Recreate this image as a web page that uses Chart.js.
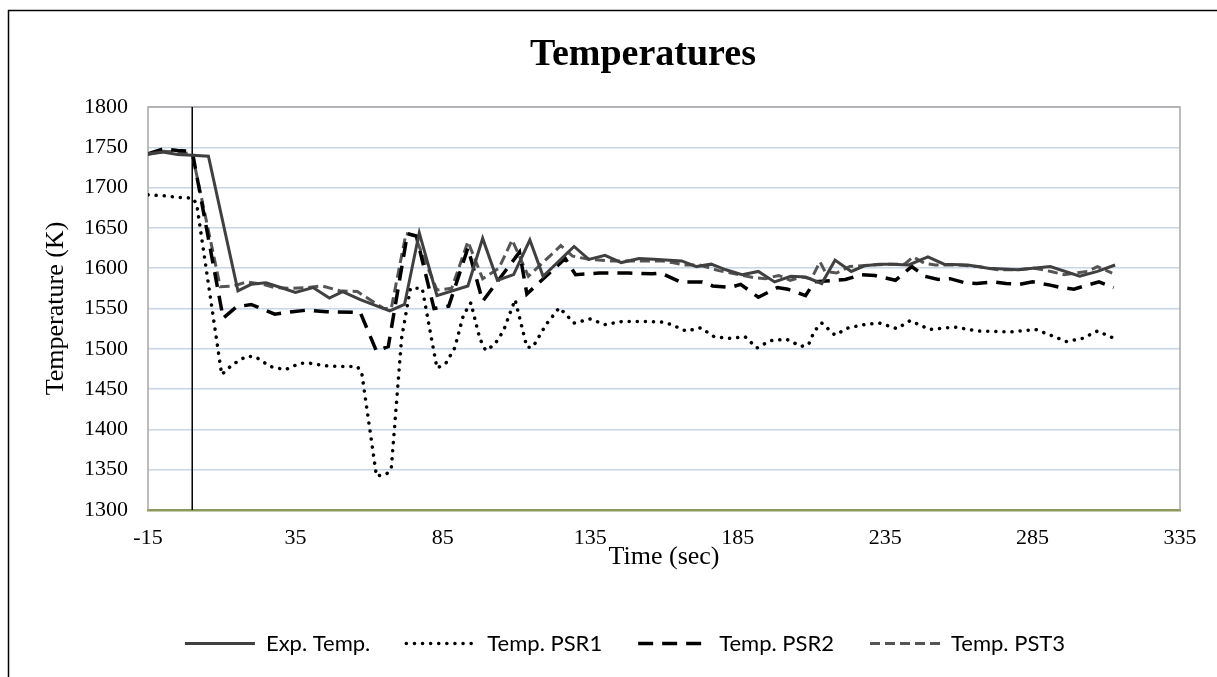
<!DOCTYPE html>
<html>
<head>
<meta charset="utf-8">
<script src="https://cdn.jsdelivr.net/npm/chart.js@4"></script>
<style>
  html, body { margin: 0; padding: 0; background: #fff; }
  canvas { display: block; }
</style>
</head>
<body>
<canvas id="grafico" width="1217" height="677"></canvas>
<script>
// valores (tempo em s, temperatura em K)
const expTime = [-15, -10, -5, 0, 5.5, 15.5, 20, 25, 30, 35, 41, 46.5, 51, 57, 67, 72, 77, 83, 93.5, 98.5, 103.5, 109, 114.5, 119, 129.5, 134.5, 140, 145.5, 151.5, 156.5, 162, 166, 171, 176, 181, 186.5, 192, 197.5, 203, 208, 213.5, 218, 223.5, 228, 233, 237, 243, 249.5, 255, 263, 270, 280, 291, 301, 307, 313];
const expTemp = [1742, 1744, 1741, 1740, 1739, 1572, 1580, 1582, 1576, 1570, 1576, 1563, 1571, 1561, 1547, 1555, 1644, 1566, 1578, 1637, 1585, 1592, 1635, 1590, 1627, 1611, 1616, 1607, 1612, 1611, 1610, 1609, 1602, 1605, 1598, 1592, 1596, 1583, 1590, 1589, 1581, 1610, 1596, 1603, 1605, 1605, 1604, 1614, 1605, 1604, 1600, 1598, 1602, 1590, 1596, 1604];

const psr1Time = [-15, -10, -5, 0, 1.5, 10, 13.5, 18.5, 21.5, 26.5, 31.5, 36.5, 40, 45, 50, 56, 57.5, 62.5, 66, 67.5, 71, 74, 78, 83, 86, 89, 92, 94.5, 97.5, 99.5, 102.5, 105.5, 109.5, 113.5, 115.5, 120, 124.5, 129.5, 135, 140, 146, 154, 160, 162.5, 167.5, 172.5, 177, 182.5, 187.5, 191.5, 196, 201.5, 206.5, 209, 211, 213.5, 218, 222.5, 228, 233, 239, 243.5, 250, 258.5, 266.5, 277.5, 286, 291, 296.5, 302, 307, 312];
const psr1Temp = [1691, 1690, 1688, 1687, 1680, 1468, 1480, 1491, 1490, 1478, 1474, 1482, 1482, 1479, 1478, 1478, 1470, 1342, 1345, 1351, 1513, 1575, 1575, 1476, 1482, 1501, 1542, 1557, 1513, 1498, 1505, 1522, 1561, 1502, 1502, 1530, 1551, 1532, 1537, 1530, 1534, 1534, 1533, 1530, 1522, 1526, 1515, 1513, 1515, 1501, 1510, 1512, 1503, 1505, 1522, 1532, 1517, 1526, 1530, 1532, 1525, 1535, 1524, 1527, 1522, 1521, 1524, 1517, 1509, 1513, 1522, 1514];

const psr2Time = [-15, -10, -5, 0, 10.5, 15, 20, 28, 34, 39, 45.5, 57, 62.5, 66.5, 73, 76, 82, 87, 93.5, 98.5, 111, 113.5, 126.5, 130, 138, 148, 156, 159, 165.5, 173, 176.5, 182.5, 186, 192, 198.5, 202, 208, 211, 221.5, 227, 231.5, 238.5, 244, 248.5, 253, 257, 262, 266, 272, 276, 280.5, 285, 291, 294.5, 299, 303.5, 307.5, 312.5];
const psr2Temp = [1742, 1748, 1746, 1745, 1538, 1552, 1555, 1543, 1546, 1548, 1546, 1545, 1497, 1503, 1643, 1640, 1550, 1553, 1625, 1559, 1620, 1568, 1612, 1592, 1594, 1594, 1593, 1594, 1583, 1583, 1578, 1576, 1580, 1564, 1576, 1574, 1566, 1583, 1586, 1592, 1591, 1585, 1602, 1590, 1586, 1587, 1582, 1581, 1583, 1581, 1580, 1583, 1579, 1576, 1574, 1579, 1583, 1576];

const pst3Time = [-15, -10, -5, 0, 9.5, 14, 18.5, 24, 28, 33, 39, 44, 50, 56, 59, 65, 67.5, 72.5, 75.5, 83, 88, 93.5, 98.5, 104, 108.5, 114, 125, 129, 134.5, 142, 151.5, 159.5, 162.8, 166.8, 172, 178.6, 185.3, 191, 194.4, 198.9, 202.8, 206.7, 210, 212.9, 214.6, 218.5, 223, 230.4, 237, 241.6, 244.5, 248.4, 252, 259.9, 266.7, 273.2, 279.9, 285.6, 291.2, 295.7, 303.6, 307, 312];
const pst3Temp = [1741, 1745, 1744, 1742, 1577, 1578, 1583, 1580, 1576, 1575, 1576, 1578, 1572, 1571, 1564, 1550, 1550, 1643, 1640, 1573, 1575, 1633, 1587, 1600, 1635, 1590, 1628, 1615, 1611, 1609, 1609, 1609, 1607, 1604, 1604, 1597, 1592, 1588, 1587, 1591, 1585, 1589, 1587, 1608, 1596, 1594, 1602, 1604, 1605, 1605, 1614, 1606, 1604, 1604, 1602, 1598, 1598, 1600, 1596, 1592, 1596, 1602, 1594];

// linha vertical em t = 0
const marcaTime = [0, 0];
const marcaTemp = [1300, 1800];

const xMin = -15, xMax = 335, xStep = 50;
const yMin = 1300, yMax = 1800, yStep = 50;

function pontos(tempos, valores) {
    return tempos.map((t, i) => ({ x: t, y: valores[i] }));
}

Chart.defaults.font.family = '"Liberation Serif", "Times New Roman", serif';
Chart.defaults.color = '#000';

const moldura = {
    id: 'moldura',
    afterLayout(chart) {
        // o grafico original e mais largo que a imagem: titulo e legenda ficam deslocados
        chart.titleBlock.left += 38;
        chart.titleBlock.right += 38;
        chart.legend.left += 20;
        chart.legend.right += 20;
    },
    beforeDraw(chart) {
        const ctx = chart.ctx;
        ctx.save();
        ctx.fillStyle = '#fff';
        ctx.fillRect(0, 0, chart.width, chart.height);
        ctx.strokeStyle = '#000';
        ctx.lineWidth = 1.5;
        ctx.strokeRect(8.5, 10.5, 1400, 1000);
        ctx.restore();
    },
    beforeDatasetsDraw(chart) {
        const { ctx, chartArea: a } = chart;
        ctx.save();
        ctx.strokeStyle = '#a6a6a6';
        ctx.lineWidth = 1.5;
        ctx.beginPath();
        ctx.moveTo(a.left, a.bottom);
        ctx.lineTo(a.left, a.top);
        ctx.lineTo(a.right, a.top);
        ctx.lineTo(a.right, a.bottom);
        ctx.stroke();
        ctx.restore();
    }
};

const grafico = document.getElementById('grafico');

new Chart(grafico, {
    type: 'line',
    data: {
        datasets: [
            {
                label: 'Exp. Temp.',
                data: pontos(expTime, expTemp),
                borderColor: '#404040',
                borderWidth: 3,
                borderCapStyle: 'butt'
            },
            {
                label: 'Temp. PSR1',
                data: pontos(psr1Time, psr1Temp),
                borderColor: '#000000',
                borderWidth: 3.5,
                borderDash: [0.1, 8],
                borderCapStyle: 'round'
            },
            {
                label: 'Temp. PSR2',
                data: pontos(psr2Time, psr2Temp),
                borderColor: '#000000',
                borderWidth: 3.5,
                borderDash: [15, 9],
                borderCapStyle: 'butt'
            },
            {
                label: 'Temp. PST3',
                data: pontos(pst3Time, pst3Temp),
                borderColor: '#555555',
                borderWidth: 3,
                borderDash: [10, 5],
                borderCapStyle: 'butt'
            },
            {
                label: '',
                data: pontos(marcaTime, marcaTemp),
                borderColor: '#000000',
                borderWidth: 1.5
            }
        ]
    },
    options: {
        responsive: false,
        animation: false,
        devicePixelRatio: 1,
        elements: {
            point: { radius: 0 },
            line: { tension: 0, fill: false }
        },
        layout: {
            padding: { left: 30, right: 37, top: 0, bottom: 12.5 }
        },
        plugins: {
            title: {
                display: true,
                text: 'Temperatures',
                font: { size: 38, weight: 'bold' },
                color: '#000',
                padding: { top: 32, bottom: 29.4 }
            },
            legend: {
                position: 'bottom',
                labels: {
                    usePointStyle: true,
                    pointStyleWidth: 70,
                    padding: 36,
                    font: { family: 'Lato', size: 22 },
                    color: '#000',
                    generateLabels(chart) {
                        return chart.data.datasets
                            .map((ds, i) => ({
                                text: ds.label,
                                datasetIndex: i,
                                hidden: false,
                                fillStyle: ds.borderColor,
                                strokeStyle: ds.borderColor,
                                lineWidth: ds.borderWidth,
                                lineDash: ds.borderDash || [],
                                lineCap: ds.borderCapStyle || 'butt',
                                pointStyle: 'line',
                                fontColor: '#000'
                            }))
                            .filter(item => item.text !== '');
                    }
                }
            },
            tooltip: { enabled: false }
        },
        scales: {
            x: {
                type: 'linear',
                min: xMin,
                max: xMax,
                ticks: {
                    stepSize: xStep,
                    padding: 15,
                    font: { size: 22 },
                    color: '#000',
                    maxRotation: 0,
                    autoSkip: false,
                    callback: v => String(v)
                },
                grid: { display: false, drawTicks: false },
                border: { display: true, color: '#8b9a5b', width: 2.5 },
                title: {
                    display: true,
                    text: 'Time (sec)',
                    font: { size: 26 },
                    color: '#000',
                    padding: { top: 0, bottom: 24 }
                },
                afterFit(scale) { scale.height = 86.5; }
            },
            y: {
                min: yMin,
                max: yMax,
                ticks: {
                    stepSize: yStep,
                    padding: 20,
                    font: { size: 22 },
                    color: '#000',
                    callback: v => String(v)
                },
                grid: { color: '#c6d5e9', lineWidth: 1.5, drawTicks: false },
                border: { display: false },
                title: {
                    display: true,
                    text: 'Temperature (K)',
                    font: { size: 26 },
                    color: '#000',
                    padding: { top: 11, bottom: 0 }
                },
                afterFit(scale) { scale.width = 118; }
            }
        }
    },
    plugins: [moldura]
});
</script>
</body>
</html>
